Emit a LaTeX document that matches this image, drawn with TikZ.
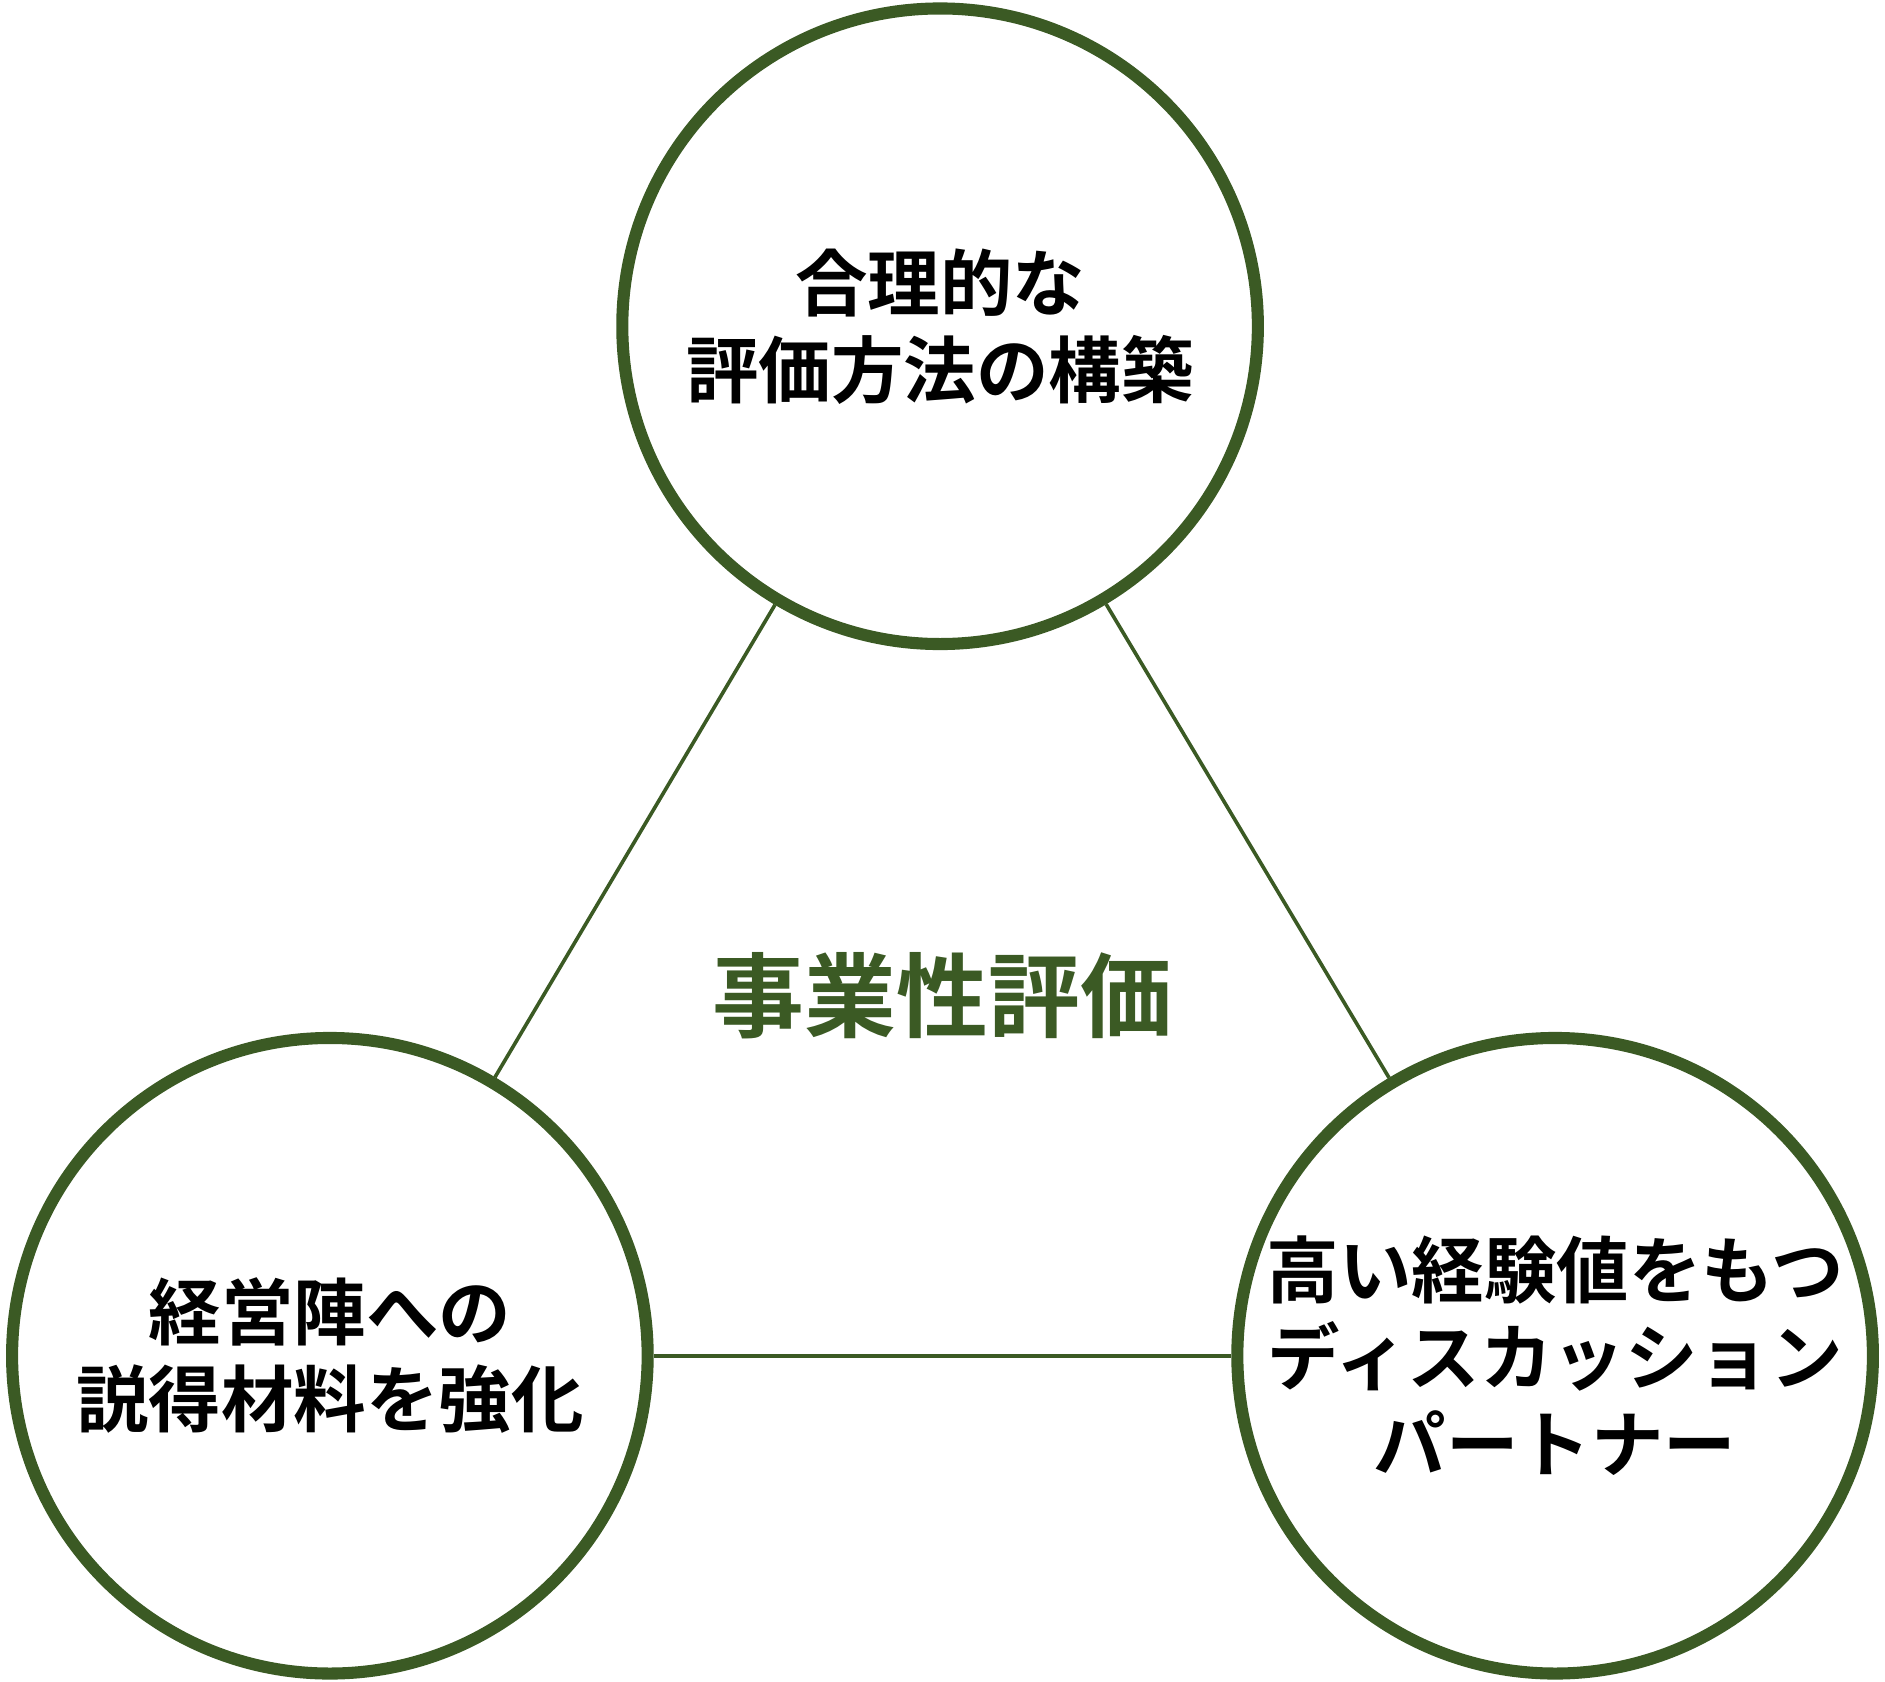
\documentclass[tikz,border=0pt]{standalone}
\usepackage{fontspec}
\newfontfamily\cjk{Noto Sans CJK JP}[BoldFont={* Bold}]
\definecolor{dg}{HTML}{3B5A24}
\begin{document}
\begin{tikzpicture}[x=0.5pt,y=-0.5pt,
  circ/.style={circle,draw=dg,line width=5pt,minimum size=526*0.5pt,inner sep=0pt,align=center,font=\cjk\bfseries\fontsize{30}{36}\selectfont},
  conn/.style={draw=dg,line width=1.5pt}]
\useasboundingbox (0,0) rectangle (1560,1392);
\node[circ] (t) at (778,270) {合理的な\\評価方法の構築};
\node[circ] (l) at (273,1122) {経営陣への\\説得材料を強化};
\node[circ] (r) at (1287,1122) {高い経験値をもつ\\ディスカッション\\パートナー};
\draw[conn] (t) -- (l);
\draw[conn] (t) -- (r);
\draw[conn] (l) -- (r);
\node[font=\cjk\bfseries\fontsize{38}{44}\selectfont,text=dg] (c) at (780,824) {事業性評価};
\end{tikzpicture}
\end{document}
